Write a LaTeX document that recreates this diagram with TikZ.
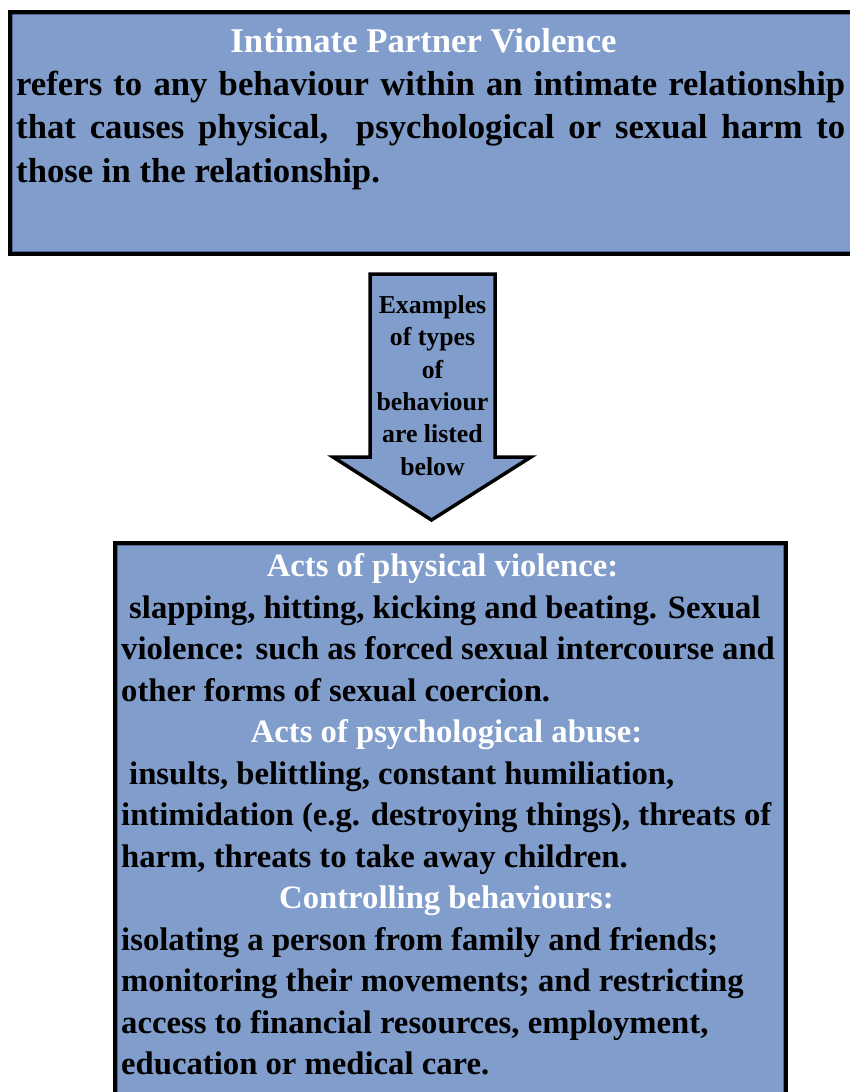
\documentclass[tikz,border=0pt]{standalone}
\usepackage{fontspec}
\setmainfont{Liberation Serif}
\definecolor{boxfill}{RGB}{128,157,204}
\definecolor{boxedge}{RGB}{78,102,148}
\tikzset{
  x=1pt, y=-1pt,
  panel/.style={fill=boxfill, draw=black, line width=4pt},
  inneredge/.style={draw=boxedge, line width=0.8pt},
  toptext/.style={inner sep=0pt, font=\fontsize{34.7}{44}\selectfont\bfseries},
  bodytext/.style={inner sep=0pt, anchor=base west, font=\fontsize{32.7}{41.5}\selectfont\bfseries},
  headtext/.style={inner sep=0pt, anchor=base, text=white, font=\fontsize{32.7}{41.5}\selectfont\bfseries},
  arrowtext/.style={inner sep=0pt, anchor=base, font=\fontsize{25.8}{32.4}\selectfont\bfseries}
}
\begin{document}
\begin{tikzpicture}
\useasboundingbox (0,0) rectangle (850,1092);
\clip (0,0) rectangle (850,1092);

% definition panel
\draw[panel] (9.5,11.5) rectangle (870,254);
\draw[inneredge] (12,14) rectangle (870,251.5);
\node[toptext, anchor=base, text=white] (title) at (423.5,52) {Intimate Partner Violence};
\node[toptext, anchor=base west] (d1) at (16,95) {\makebox[829pt][s]{refers to any behaviour within an intimate relationship}};
\node[toptext, anchor=base west] (d2) at (16,138.5) {\makebox[829pt][s]{that causes physical,\ \ psychological or sexual harm to}};
\node[toptext, anchor=base west] (d3) at (16,182) {those in the relationship.};

% downward block arrow
\draw[fill=boxfill, draw=black, line width=3.5pt, line join=miter]
  (370,274) -- (495,274) -- (495,457) -- (531,457) -- (431.5,520) -- (333,457) -- (370,457) -- cycle;
\node[arrowtext] (a1) at (432.5,313) {Examples};
\node[arrowtext] (a2) at (432.5,345.5) {of types};
\node[arrowtext] (a3) at (432.5,378) {of};
\node[arrowtext] (a4) at (432.5,410) {behaviour};
\node[arrowtext] (a5) at (432.5,442.5) {are listed};
\node[arrowtext] (a6) at (432.5,475) {below};

% list of behaviours panel
\draw[panel] (114.5,543) rectangle (786,1110);
\draw[inneredge] (117,545.5) rectangle (783.5,1110);
\node[headtext] (h1) at (442.5,576) {Acts of physical violence:};
\node[bodytext] (b1) at (129,618) {slapping, hitting, kicking and beating. Sexual};
\node[bodytext] (b2) at (121,659.5) {violence: such as forced sexual intercourse and};
\node[bodytext] (b3) at (121,701) {other forms of sexual coercion.};
\node[headtext] (h2) at (446.5,742.5) {Acts of psychological abuse:};
\node[bodytext] (b4) at (129,784) {insults, belittling, constant humiliation,};
\node[bodytext] (b5) at (121,825.5) {intimidation (e.g. destroying things), threats of};
\node[bodytext] (b6) at (121,867) {harm, threats to take away children.};
\node[headtext] (h3) at (446.5,908.5) {Controlling behaviours:};
\node[bodytext] (b7) at (121,950) {isolating a person from family and friends;};
\node[bodytext] (b8) at (121,991.5) {monitoring their movements; and restricting};
\node[bodytext] (b9) at (121,1033) {access to financial resources, employment,};
\node[bodytext] (b10) at (121,1074.5) {education or medical care.};
\end{tikzpicture}
\end{document}
